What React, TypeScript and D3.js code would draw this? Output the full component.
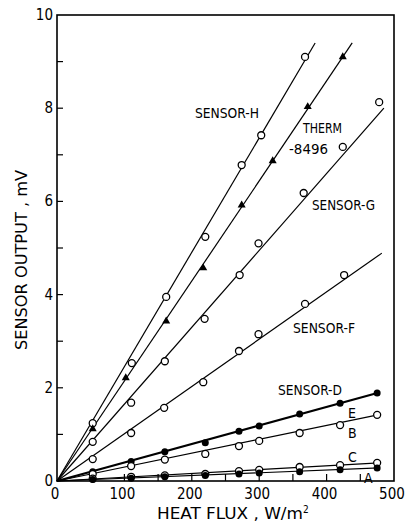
import React from "react";
import * as d3 from "d3";

const xTicks = [0, 100, 200, 300, 400, 500];
const yTicks = [0, 2, 4, 6, 8, 10];

const fluxH = [53, 111, 162, 220, 274, 303, 368];
const sensorH = [1.24, 2.53, 3.95, 5.24, 6.78, 7.42, 9.1];
const fluxTherm = [53, 102, 162, 217, 274, 320, 372, 424];
const therm = [1.12, 2.21, 3.43, 4.57, 5.92, 6.87, 8.03, 9.1];
const fluxG = [53, 110, 160, 219, 271, 299, 366, 424, 478];
const sensorG = [0.84, 1.68, 2.57, 3.48, 4.42, 5.1, 6.18, 7.17, 8.13];
const fluxF = [53, 110, 159, 217, 270, 299, 368, 426];
const sensorF = [0.47, 1.03, 1.57, 2.12, 2.79, 3.15, 3.8, 4.42];
const fluxLow = [53, 110, 160, 220, 270, 300, 360, 420, 475];
const sensorD = [0.2, 0.42, 0.63, 0.82, 1.07, 1.18, 1.44, 1.67, 1.89];
const sensorB = [0.15, 0.32, 0.46, 0.58, 0.75, 0.86, 1.03, 1.2, 1.42];
const sensorC = [0.05, 0.09, 0.12, 0.15, 0.21, 0.24, 0.3, 0.34, 0.39];
const sensorA = [0.03, 0.06, 0.09, 0.12, 0.15, 0.17, 0.2, 0.24, 0.28];

// fitted straight lines from origin to end point [flux, output]
const fitEnds: Record<string, [number, number]> = {
  H: [383, 9.4],
  T: [438, 9.4],
  G: [485, 8.0],
  F: [482, 4.89],
  D: [478, 1.9],
  B: [476, 1.42],
  C: [478, 0.39],
  A: [478, 0.28],
};

const FONT = "'DejaVu Sans Condensed', 'Liberation Sans Narrow', 'DejaVu Sans', sans-serif";

export default function App() {
  const W = 406, H = 525;
  const x = d3.scaleLinear().domain([0, 500]).range([57, 394]);
  const y = d3.scaleLinear().domain([0, 10]).range([481, 15]);

  const series = [
    { key: "H", xs: fluxH, ys: sensorH, marker: "circle", w: 1.2 },
    { key: "T", xs: fluxTherm, ys: therm, marker: "tri", w: 1.2 },
    { key: "G", xs: fluxG, ys: sensorG, marker: "circle", w: 1.2 },
    { key: "F", xs: fluxF, ys: sensorF, marker: "circle", w: 1.2 },
    { key: "D", xs: fluxLow, ys: sensorD, marker: "dot", w: 2.2 },
    { key: "B", xs: fluxLow, ys: sensorB, marker: "circle", w: 1.2 },
    { key: "C", xs: fluxLow, ys: sensorC, marker: "circle", w: 1.2 },
    { key: "A", xs: fluxLow, ys: sensorA, marker: "dot", w: 1.2 },
  ];
  const line = d3.line<[number, number]>().x(d => x(d[0])).y(d => y(d[1]));
  const tri = d3.symbol(d3.symbolTriangle, 28)();

  const minorX = d3.range(50, 500, 50);
  const minorY = d3.range(1, 10, 1);

  const labels = [
    { t: "SENSOR-H", x: 195, y: 118, len: 64 },
    { t: "THERM", x: 303, y: 133, len: 39 },
    { t: "-8496", x: 289, y: 154, len: 39 },
    { t: "SENSOR-G", x: 312, y: 210, len: 63 },
    { t: "SENSOR-F", x: 293, y: 333, len: 62 },
    { t: "SENSOR-D", x: 278, y: 395, len: 64 },
  ];

  return (
    <svg width={W} height={H} style={{ position: "absolute", left: 0, top: 0, background: "#fff" }}
      fontFamily={FONT}>
      <rect x={x(0)} y={y(10)} width={x(500) - x(0)} height={y(0) - y(10)} fill="none" stroke="#000" strokeWidth={1.6} />
      {minorX.map(v => (
        <line key={"mx" + v} x1={x(v)} x2={x(v)} y1={y(0)} y2={y(0) - 7} stroke="#000" strokeWidth={1.2} />
      ))}
      {minorY.map(v => (
        <line key={"my" + v} x1={x(0)} x2={x(0) + 6} y1={y(v)} y2={y(v)} stroke="#000" strokeWidth={1.2} />
      ))}
      {xTicks.map(v => (
        <text key={"xt" + v} x={x(v) - 2} y={499} fontSize={15} textAnchor="middle">{v}</text>
      ))}
      {yTicks.map(v => (
        <text key={"yt" + v} x={53} y={y(v) + 5} fontSize={15} textAnchor="end">{v}</text>
      ))}
      <text x={157} y={519} fontSize={15}>
        <tspan textLength={146} lengthAdjust="spacingAndGlyphs">HEAT FLUX , W/m</tspan>
        <tspan dy={-6} fontSize={10}>2</tspan>
      </text>
      <text transform="translate(27,260) rotate(-90)" fontSize={16} textAnchor="middle"
        textLength={180} lengthAdjust="spacingAndGlyphs">
        SENSOR OUTPUT , mV
      </text>

      {series.map(s => (
        <path key={"l" + s.key} d={line([[0, 0], fitEnds[s.key]]) || ""} stroke="#000" strokeWidth={s.w} fill="none" />
      ))}
      {series.map(s => s.xs.map((xv, i) => {
        const cx = x(xv), cy = y(s.ys[i]);
        if (s.marker === "tri") return <path key={s.key + i} d={tri || ""} transform={`translate(${cx},${cy})`} fill="#000" />;
        if (s.marker === "dot") return <circle key={s.key + i} cx={cx} cy={cy} r={3.5} fill="#000" />;
        return <circle key={s.key + i} cx={cx} cy={cy} r={3.5} fill="#fff" stroke="#000" strokeWidth={1.3} />;
      }))}

      <g fontSize={14}>
        {labels.map(l => (
          <text key={l.t} x={l.x} y={l.y} textLength={l.len} lengthAdjust="spacingAndGlyphs">{l.t}</text>
        ))}
        <text x={348} y={418}>E</text>
        <text x={348} y={438}>B</text>
        <text x={348} y={462}>C</text>
        <text x={364} y={483}>A</text>
      </g>
    </svg>
  );
}
